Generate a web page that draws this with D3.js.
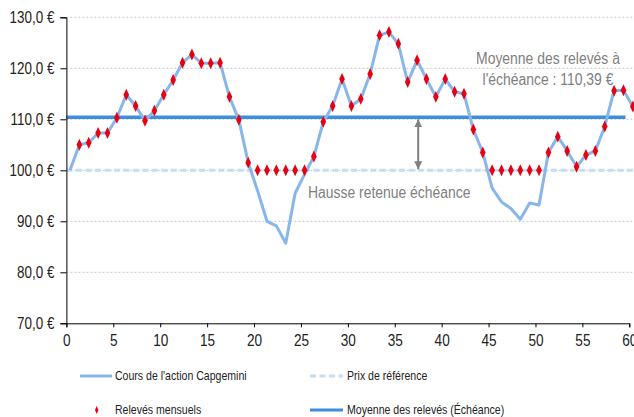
<!DOCTYPE html>
<html>
<head>
<meta charset="utf-8">
<script src="https://cdn.jsdelivr.net/npm/d3@7"></script>
<style>
  body { margin: 0; background: #fff; }
  text { font-family: "Liberation Sans", Arial, sans-serif; }
</style>
</head>
<body>
<svg width="634" height="417"></svg>
<script>
// month index of each observation (0 = start)
const months = d3.range(0, 61);

// share price, monthly
const cours = [100.0, 105.0, 105.4, 107.3, 107.3, 110.3, 114.8, 112.6, 109.7, 111.7,
	114.8, 117.7, 121.1, 122.7, 121.0, 121.0, 121.1, 114.4, 109.9, 101.5,
	96.0, 90.0, 89.1, 85.7, 95.5, 99.2, 102.7, 109.5, 112.6, 117.9,
	112.6, 114.0, 118.9, 126.5, 127.1, 124.8, 117.3, 121.6, 117.9, 114.4,
	117.9, 115.4, 115.0, 108.0, 103.5, 96.5, 93.8, 92.5, 90.4, 93.6,
	93.2, 103.5, 106.6, 103.8, 100.7, 103.0, 103.8, 108.6, 115.6, 115.7, 112.5];

// monthly readings (months 1..60), floored at the reference price
const releves = [105.0, 105.4, 107.3, 107.3, 110.3, 114.8, 112.6, 109.7, 111.7,
	114.8, 117.7, 121.1, 122.7, 121.0, 121.0, 121.1, 114.4, 109.9, 101.5,
	100.0, 100.0, 100.0, 100.0, 100.0, 100.0, 102.7, 109.5, 112.6, 117.9,
	112.6, 114.0, 118.9, 126.5, 127.1, 124.8, 117.3, 121.6, 117.9, 114.4,
	117.9, 115.4, 115.0, 108.0, 103.5, 100.0, 100.0, 100.0, 100.0, 100.0,
	100.0, 103.5, 106.6, 103.8, 100.7, 103.0, 103.8, 108.6, 115.6, 115.7, 112.5];

const prixReference = 100;
const moyenne = 110.39;

const yTicks = [70, 80, 90, 100, 110, 120, 130];
const xTicks = [0, 5, 10, 15, 20, 25, 30, 35, 40, 45, 50, 55, 60];

const legendItems = [
	{ label: "Cours de l'action Capgemini", type: 'line', col: 0, row: 0 },
	{ label: 'Prix de référence', type: 'dash', col: 1, row: 0 },
	{ label: 'Relevés mensuels', type: 'marker', col: 0, row: 1 },
	{ label: 'Moyenne des relevés (Échéance)', type: 'mean', col: 1, row: 1 }
];

const colPrice = '#88b6eb';
const colRef = '#c4ddf4';
const colMean = '#3d8fde';
const colMarker = '#e60012';
const colGrey = '#808080';

let svg = d3.select('svg');

let x = d3.scaleLinear().domain([0, 60]).range([66.4, 629.3]);
let y = d3.scaleLinear().domain([70, 130]).range([323.3, 17.3]);
const xOff = 0.38; // data sit slightly right of the tick marks

// no narrow font installed: squeeze text horizontally around its anchor
function narrow(sel, k) {
	sel.each(function() {
		let t = d3.select(this);
		let ax = +t.attr('x') || 0;
		t.attr('transform', 'translate(' + ax + ',0) scale(' + k + ',1) translate(' + -ax + ',0)');
	});
}

// grid lines
svg.selectAll('.grid')
	.data(yTicks.filter((v) => v > 70))
	.enter()
	.append('line')
	.attr('class', 'grid')
	.attr('x1', x(0))
	.attr('x2', 634)
	.attr('y1', (d) => y(d))
	.attr('y2', (d) => y(d))
	.attr('stroke', '#c8c8c8')
	.attr('stroke-width', 1)
	.attr('stroke-dasharray', '2,2');

// reference price
svg.append('line')
	.attr('x1', x(0))
	.attr('x2', 634)
	.attr('y1', y(prixReference))
	.attr('y2', y(prixReference))
	.attr('stroke', colRef)
	.attr('stroke-width', 3)
	.attr('stroke-dasharray', '6,3.5');

// mean of readings
svg.append('line')
	.attr('x1', x(0))
	.attr('x2', x(59.6))
	.attr('y1', y(moyenne))
	.attr('y2', y(moyenne))
	.attr('stroke', colMean)
	.attr('stroke-width', 3.5);

// share price line
let line = d3.line().x((d, i) => x(months[i] + xOff)).y((d) => y(d));
svg.append('path')
	.datum(cours)
	.attr('d', line)
	.attr('fill', 'none')
	.attr('stroke', colPrice)
	.attr('stroke-width', 3)
	.attr('stroke-linejoin', 'round');

// monthly readings
let diamond = d3.symbol().type(d3.symbolDiamond).size(34);
svg.selectAll('.releve')
	.data(releves)
	.enter()
	.append('path')
	.attr('class', 'releve')
	.attr('d', diamond)
	.attr('transform', (d, i) => 'translate(' + x(months[i + 1] + xOff) + ',' + y(d) + ') scale(0.9,1.1)')
	.attr('fill', colMarker);

// double arrow between reference and mean
svg.append('defs')
	.append('marker')
	.attr('id', 'arrowHead')
	.attr('orient', 'auto-start-reverse')
	.attr('markerWidth', 4)
	.attr('markerHeight', 4)
	.attr('refX', 4)
	.attr('refY', 2)
	.attr('markerUnits', 'strokeWidth')
	.append('path')
	.attr('d', 'M0,0 L4,2 L0,4 Z')
	.attr('fill', colGrey);

svg.append('line')
	.attr('x1', x(37.5))
	.attr('x2', x(37.5))
	.attr('y1', y(moyenne) + 2)
	.attr('y2', y(prixReference) - 1)
	.attr('stroke', colGrey)
	.attr('stroke-width', 2)
	.attr('marker-start', 'url(#arrowHead)')
	.attr('marker-end', 'url(#arrowHead)');

// annotations
let notes = svg.append('g').attr('fill', colGrey).attr('font-size', 16);
notes.append('text')
	.attr('x', 548)
	.attr('y', 64)
	.attr('text-anchor', 'middle')
	.text('Moyenne des relevés à');
notes.append('text')
	.attr('x', 548)
	.attr('y', 85)
	.attr('text-anchor', 'middle')
	.text("l'échéance : 110,39 €");
notes.append('text')
	.attr('x', 308)
	.attr('y', 198)
	.text('Hausse retenue échéance');
narrow(notes.selectAll('text'), 0.87);

// axes
let yAxis = d3.axisLeft(y)
	.tickValues(yTicks)
	.tickSize(6)
	.tickPadding(6)
	.tickFormat((d) => d3.format('.1f')(d).replace('.', ',') + ' €');
let gy = svg.append('g').attr('transform', 'translate(' + x(0) + ',0)').call(yAxis);
gy.select('.domain').attr('stroke', '#000');
gy.selectAll('text').attr('font-size', 16).attr('fill', '#222');
narrow(gy.selectAll('text'), 0.84);

let xAxis = d3.axisBottom(x).tickValues(xTicks).tickSize(4).tickPadding(7).tickFormat(d3.format('d'));
let gx = svg.append('g').attr('transform', 'translate(0,' + y(70) + ')').call(xAxis);
gx.select('.domain').attr('stroke', '#000');
gx.selectAll('text').attr('font-size', 16).attr('fill', '#222');
narrow(gx.selectAll('text'), 0.85);

// legend
let legend = svg.selectAll('.legend')
	.data(legendItems)
	.enter()
	.append('g')
	.attr('class', 'legend')
	.attr('transform', (d) => 'translate(' + (d.col ? 310 : 80) + ',' + (d.row ? 410 : 376) + ')');

legend.filter((d) => d.type != 'marker')
	.append('line')
	.attr('x1', 0)
	.attr('x2', (d) => (d.col ? 33 : 32))
	.attr('stroke', (d) => (d.type == 'line' ? colPrice : d.type == 'dash' ? colRef : colMean))
	.attr('stroke-width', 3)
	.attr('stroke-dasharray', (d) => (d.type == 'dash' ? '6,3.5' : null));

legend.filter((d) => d.type == 'marker')
	.append('path')
	.attr('d', d3.symbol().type(d3.symbolDiamond).size(14))
	.attr('transform', 'translate(16.7,0) scale(0.85,1.15)')
	.attr('fill', colMarker);

legend.append('text')
	.attr('x', (d) => (d.col ? 37 : 35))
	.attr('y', 4)
	.attr('font-size', 12)
	.attr('fill', '#222')
	.text((d) => d.label);
narrow(legend.selectAll('text'), 0.88);
</script>
</body>
</html>
